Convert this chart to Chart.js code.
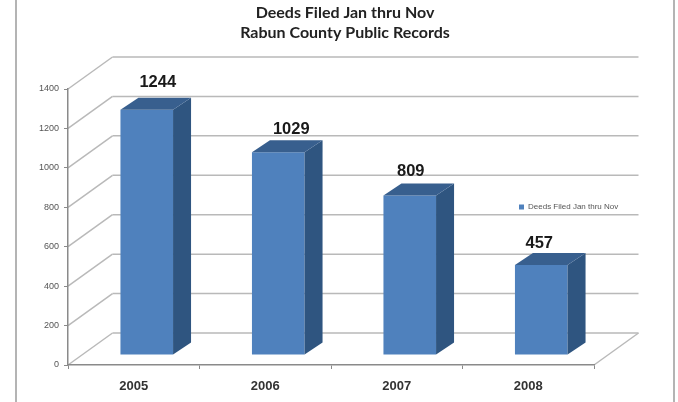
<!DOCTYPE html>
<html>
<head>
<meta charset="utf-8">
<style>
  html, body { margin: 0; padding: 0; background: #fff; }
  #wrap { position: relative; width: 678px; height: 402px; overflow: hidden; }
  #frame { position: absolute; left: 15px; top: -5px; width: 656px; height: 420px; border: 2px solid #b4b4b4; }
  canvas { position: absolute; left: 0; top: 0; filter: blur(0.5px); }
</style>
<script src="https://cdn.jsdelivr.net/npm/chart.js@4"></script>
</head>
<body>
<div id="wrap">
  <div id="frame"></div>
  <canvas id="deeds" width="678" height="402"></canvas>
</div>
<script>
const years = ["2005", "2006", "2007", "2008"];
const deedsFiled = [1244, 1029, 809, 457];
const seriesName = "Deeds Filed Jan thru Nov";
const titleLines = ["Deeds Filed Jan thru Nov", "Rabun County Public Records"];

// 3D look: how far the back wall and the bars sit behind the front plane
const wall = { dx: 44.5, dy: -32 };
const barShift = { dx: 13, dy: -10 };
const barDepth = { dx: 18, dy: -12 };
// the value labels were moved by hand in the original
const labelNudges = [[0, -4], [2, 1], [-10, -1], [-13, 2]];

const frontColor = "#4f81bd";
const sideColor = "#2f5580";
const topColor = "#385f8e";
const gridColor = "#b9b9b9";
const axisColor = "#8a8a8a";

const line = (ctx, x1, y1, x2, y2) => {
  ctx.beginPath();
  ctx.moveTo(x1, y1);
  ctx.lineTo(x2, y2);
  ctx.stroke();
};

const poly = (ctx, color, pts) => {
  ctx.fillStyle = color;
  ctx.beginPath();
  pts.forEach((p, i) => (i ? ctx.lineTo(p[0], p[1]) : ctx.moveTo(p[0], p[1])));
  ctx.closePath();
  ctx.fill();
};

// back wall, left wall and floor lines, from the y scale ticks
const wallsPlugin = {
  id: "walls",
  beforeDraw(chart) {
    const { ctx, scales } = chart;
    const left = scales.x.left;
    const right = scales.x.right;
    ctx.save();
    ctx.strokeStyle = gridColor;
    ctx.lineWidth = 1.5;
    scales.y.ticks.forEach((tick) => {
      const y = scales.y.getPixelForValue(tick.value);
      line(ctx, left, y, left + wall.dx, y + wall.dy);
      line(ctx, left + wall.dx, y + wall.dy, right + wall.dx, y + wall.dy);
    });
    const y0 = scales.y.getPixelForValue(0);
    line(ctx, right, y0, right + wall.dx, y0 + wall.dy);
    ctx.restore();

    // legend sits inside the plot, to the right of the 2007 bar
    if (chart.legend) {
      chart.legend.left = 515;
      chart.legend.right = 632;
      chart.legend.top = 201;
      chart.legend.bottom = 213;
    }
    // title is centred on the whole picture, not on the axis
    if (chart.titleBlock) {
      chart.titleBlock.left = 96;
      chart.titleBlock.right = 594;
    }
  },
  // bars are pushed back from the axis plane
  beforeDatasetsDraw(chart) {
    chart.ctx.save();
    chart.ctx.translate(barShift.dx, barShift.dy);
  },
  afterDatasetsDraw(chart) {
    const { ctx } = chart;
    const bars = chart.getDatasetMeta(0).data;
    bars.forEach((bar) => {
      const half = bar.width / 2;
      const l = bar.x - half;
      const r = bar.x + half;
      poly(ctx, sideColor, [
        [r, bar.y],
        [r + barDepth.dx, bar.y + barDepth.dy],
        [r + barDepth.dx, bar.base + barDepth.dy],
        [r, bar.base],
      ]);
      poly(ctx, topColor, [
        [l, bar.y],
        [l + barDepth.dx, bar.y + barDepth.dy],
        [r + barDepth.dx, bar.y + barDepth.dy],
        [r, bar.y],
      ]);
    });
    ctx.restore();

    // value labels above each bar
    ctx.save();
    ctx.font = "bold 16.5px 'Liberation Sans'";
    ctx.fillStyle = "#1a1a1a";
    ctx.textAlign = "center";
    ctx.textBaseline = "alphabetic";
    bars.forEach((bar, i) => {
      const x = bar.x + barShift.dx + 11 + labelNudges[i][0];
      const y = bar.y + barShift.dy + barDepth.dy - 7 + labelNudges[i][1];
      ctx.fillText(deedsFiled[i], x, y);
    });
    ctx.restore();
  },
};

new Chart(document.getElementById("deeds"), {
  type: "bar",
  data: {
    labels: years,
    datasets: [
      {
        label: seriesName,
        data: deedsFiled,
        backgroundColor: frontColor,
        barPercentage: 0.4,
        categoryPercentage: 1,
      },
    ],
  },
  options: {
    responsive: false,
    animation: false,
    layout: { padding: { left: 0, right: 84, top: 0, bottom: 0 } },
    plugins: {
      title: {
        display: true,
        text: titleLines,
        color: "#222",
        font: { family: "Lato", size: 16, weight: "bold", lineHeight: 1.25 },
        padding: { top: 3, bottom: 46 },
      },
      legend: {
        display: true,
        position: "chartArea",
        align: "center",
        labels: {
          boxWidth: 5,
          boxHeight: 5,
          padding: 4,
          color: "#555",
          font: { family: "'Liberation Sans'", size: 8 },
        },
      },
      tooltip: { enabled: false },
    },
    scales: {
      x: {
        afterFit(scale) { scale.height = 37; },
        grid: { drawOnChartArea: false, color: axisColor, tickLength: 4, offset: true },
        border: { color: axisColor, width: 1.5 },
        ticks: { color: "#333", padding: 10, font: { family: "'Liberation Sans'", size: 13, weight: "bold" } },
      },
      y: {
        min: 0,
        max: 1400,
        afterFit(scale) { scale.width = 68; },
        grid: { drawOnChartArea: false, color: axisColor, tickLength: 4 },
        border: { color: axisColor, width: 1.5 },
        ticks: {
          stepSize: 200,
          color: "#555",
          padding: 5,
          font: { family: "'Liberation Sans'", size: 9 },
          callback: (value) => String(value),
        },
      },
    },
  },
  plugins: [wallsPlugin],
});
</script>
</body>
</html>
